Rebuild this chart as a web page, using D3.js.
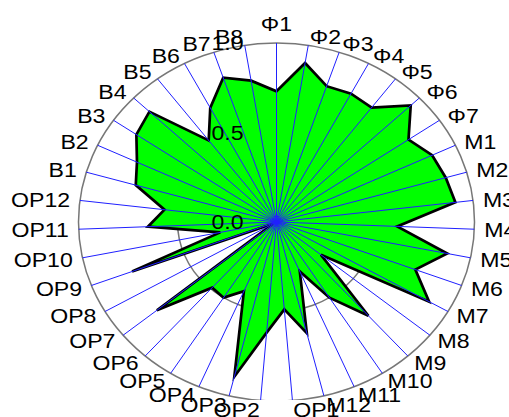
<!DOCTYPE html>
<html>
<head>
<meta charset="utf-8">
<script src="https://cdn.jsdelivr.net/npm/d3@7"></script>
<style>
  body { margin: 0; background: #fff; }
  text { font-family: "Liberation Sans", Arial, sans-serif; }
</style>
</head>
<body>
<svg id="chart" width="509" height="417"></svg>
<script>
// Categories, clockwise from the top
const categories = [
    "Φ1", "Φ2", "Φ3", "Φ4", "Φ5", "Φ6", "Φ7",
    "M1", "M2", "M3", "M4", "M5", "M6", "M7", "M8", "M9", "M10", "M11", "M12",
    "OP1", "OP2", "OP3", "OP4", "OP5", "OP6", "OP7", "OP8", "OP9", "OP10", "OP11", "OP12",
    "B1", "B2", "B3", "B4", "B5", "B6", "B7", "B8"
];

// Values
const values = [
    0.73, 0.90, 0.80, 0.81, 0.80, 0.94, 0.81,
    0.87, 0.89, 0.91, 0.61, 0.88, 0.75, 0.89, 0.29, 0.70, 0.50, 0.30, 0.64,
    0.49, 0.62, 0.89, 0.42, 0.50, 0.49, 0.78, 0.02, 0.78, 0.29, 0.65, 0.57,
    0.74, 0.78, 0.86, 0.89, 0.57, 0.72, 0.85, 0.80
];

// Radial ticks
const tickValues = [0.0, 0.5, 1.0];
const tickLabels = ["0.0", "0.5", "1.0"];
const ringValues = [0.5, 1.0];

const width = 509;
const height = 417;
const cx = 276.5;
const cy = 222;
const stretch = 1.1; // the whole figure is wider than tall, text too

const svg = d3.select("#chart");

const rx = d3.scaleLinear().domain([0, 1]).range([0, 198]);
const ry = d3.scaleLinear().domain([0, 1]).range([0, 179]);
const angle = d3.scaleLinear().domain([0, categories.length]).range([0, 2 * Math.PI]);

function px(i, v) { return cx + rx(v) * Math.sin(angle(i)); }
function py(i, v) { return cy - ry(v) * Math.cos(angle(i)); }

svg.append("defs").append("clipPath")
    .attr("id", "plotClip")
    .append("rect")
    .attr("x", 0).attr("y", 0)
    .attr("width", width).attr("height", 400);

const plot = svg.append("g").attr("clip-path", "url(#plotClip)");

// Rings
plot.selectAll(".ring")
    .data(ringValues)
    .enter().append("ellipse")
    .attr("class", "ring")
    .attr("cx", cx)
    .attr("cy", cy)
    .attr("rx", d => rx(d))
    .attr("ry", d => ry(d))
    .style("fill", "none")
    .style("stroke", "#777")
    .style("stroke-width", 1.5);

// Data polygon
const line = d3.line()
    .x((d, i) => px(i, d))
    .y((d, i) => py(i, d))
    .curve(d3.curveLinearClosed);

plot.append("path")
    .datum(values)
    .attr("d", line)
    .style("fill", "#00ff00")
    .style("stroke", "#000")
    .style("stroke-width", 2.7)
    .style("stroke-linejoin", "miter");

// Spokes
plot.selectAll(".spoke")
    .data(categories)
    .enter().append("line")
    .attr("class", "spoke")
    .attr("x1", cx)
    .attr("y1", cy)
    .attr("x2", (d, i) => px(i, 1))
    .attr("y2", (d, i) => py(i, 1))
    .style("stroke", "#2020ff")
    .style("stroke-width", 1);

// Category labels
svg.selectAll(".cat")
    .data(categories)
    .enter().append("text")
    .attr("class", "cat")
    .attr("transform", (d, i) => `translate(${px(i, 1.05)},${py(i, 1.05)}) scale(${stretch},1)`)
    .attr("text-anchor", (d, i) => {
        const s = Math.sin(angle(i));
        if (Math.abs(s) < 0.01) return "middle";
        return s > 0 ? "start" : "end";
    })
    .attr("dy", (d, i) => Math.abs(Math.sin(angle(i))) < 0.01 ? "-0.15em" : "0.35em")
    .style("font-size", "21px")
    .style("fill", "#000")
    .text(d => d);

// Radial tick labels
svg.selectAll(".tick")
    .data(tickValues)
    .enter().append("text")
    .attr("class", "tick")
    .attr("transform", d => `translate(${cx - 49},${cy - ry(d)}) scale(${stretch},1)`)
    .attr("dy", "0.35em")
    .attr("text-anchor", "middle")
    .style("font-size", "21px")
    .style("fill", "#000")
    .text((d, i) => tickLabels[i]);
</script>
</body>
</html>
